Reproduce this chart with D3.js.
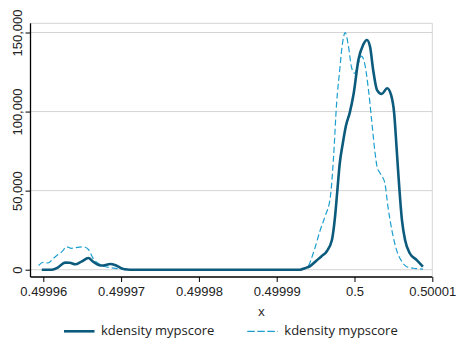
<!DOCTYPE html>
<html>
<head>
<meta charset="utf-8">
<script src="https://cdn.jsdelivr.net/npm/d3@7"></script>
<style>
  html, body { margin: 0; padding: 0; background: #fff; }
  svg { display: block; font-family: "Open Sans", "Noto Sans", sans-serif; }
</style>
</head>
<body>
<script>
// Kernel density estimates of the propensity score (two estimates)
const solidX = [0.4999598, 0.4999611, 0.4999619, 0.4999628, 0.4999634, 0.4999641, 0.4999649, 0.4999658,
  0.4999664, 0.4999671, 0.4999677, 0.4999686, 0.4999692, 0.4999699, 0.4999705, 0.4999711, 0.4999800,
  0.4999930, 0.4999936, 0.4999943, 0.4999951, 0.4999958, 0.4999964, 0.4999971, 0.4999975, 0.4999978,
  0.4999981, 0.4999985, 0.4999989, 0.4999994, 0.4999999, 0.5000005, 0.5000011, 0.5000016, 0.5000020,
  0.5000024, 0.5000029, 0.5000035, 0.5000042, 0.5000047, 0.5000051, 0.5000054, 0.5000056, 0.5000061,
  0.5000065, 0.5000071, 0.5000080, 0.5000088];
const solidY = [0, 0, 1500, 4500, 4400, 3400, 5100, 7400,
  5100, 3000, 2650, 3600, 3000, 1260, 250, 0, 0,
  0, 900, 2300, 5700, 8700, 11400, 18800, 33500, 50400,
  67000, 80000, 91000, 99500, 111600, 132600, 142100, 145300, 141000,
  126300, 113600, 111100, 114700, 110500, 98900, 77800, 63000, 31400,
  18800, 10400, 6100, 1900];

const dashX = [0.4999594, 0.4999600, 0.4999606, 0.4999613, 0.4999619, 0.4999624, 0.4999630, 0.4999636,
  0.4999642, 0.4999651, 0.4999658, 0.4999664, 0.4999671, 0.4999679, 0.4999688, 0.4999696, 0.4999704,
  0.4999711, 0.4999800, 0.4999930, 0.4999939, 0.4999947, 0.4999956, 0.4999962, 0.4999969, 0.4999973,
  0.4999977, 0.4999981, 0.4999984, 0.4999988, 0.4999992, 0.4999996, 0.5000000, 0.5000005, 0.5000009,
  0.5000013, 0.5000018, 0.5000022, 0.5000026, 0.5000029, 0.5000033, 0.5000039, 0.5000043, 0.5000048,
  0.5000054, 0.5000061, 0.5000067, 0.5000076, 0.5000082, 0.5000088];
const dashY = [2650, 4700, 4240, 7200, 9600, 11400, 14500, 13500,
  14000, 14500, 12800, 7200, 3900, 2000, 1200, 630, 100,
  0, 0, 0, 1260, 10400, 25100, 33500, 46200, 70600,
  105200, 126300, 141000, 149900, 142100, 128400, 124200, 130500, 135100,
  130500, 113600, 94700, 75700, 65100, 61000, 54800, 39800, 25100,
  12500, 5060, 1900, 900, 630, 300];

const xTicks = [0.49996, 0.49997, 0.49998, 0.49999, 0.5, 0.50001];
const xTickLabels = ["0.49996", "0.49997", "0.49998", "0.49999", "0.5", "0.50001"];
const yTicks = [0, 50000, 100000, 150000];
const yTickLabels = ["0", "50,000", "100,000", "150,000"];
const seriesNames = ["kdensity mypscore", "kdensity mypscore"];
const xTitle = "x";

const W = 458, H = 339;
const plotL = 30.5, plotR = 432.3, plotT = 23.3, plotB = 277;
const solidColor = "#0c5b7d", dashColor = "#1c9fcf";

const svg = d3.select("body").append("svg").attr("width", W).attr("height", H);

const x = d3.scaleLinear().domain([0.49996, 0.50001]).range([43.3, 432.3]);
const y = d3.scaleLinear().domain([0, 150000]).range([269.7, 32.5]);

// gray frame (top / right) and horizontal gridlines
svg.append("path")
  .attr("d", `M${plotL},${plotT}H${plotR}V${plotB}`)
  .attr("fill", "none").attr("stroke", "#d4d4d4").attr("stroke-width", 1);

svg.append("g").selectAll("line").data(yTicks).join("line")
  .attr("x1", plotL).attr("x2", plotR)
  .attr("y1", d => y(d)).attr("y2", d => y(d))
  .attr("stroke", "#d4d4d4").attr("stroke-width", 1);

// curves
const lineOf = (xs, ys) => d3.line().curve(d3.curveMonotoneX)
  .x((d, i) => x(xs[i])).y((d, i) => y(ys[i]))(xs);

svg.append("path").attr("d", lineOf(dashX, dashY))
  .attr("fill", "none").attr("stroke", dashColor).attr("stroke-width", 1.2)
  .attr("stroke-dasharray", "6,3");

svg.append("path").attr("d", lineOf(solidX, solidY))
  .attr("fill", "none").attr("stroke", solidColor).attr("stroke-width", 2.6)
  .attr("stroke-linejoin", "round");

// axes
const yAxis = d3.axisLeft(y).tickValues(yTicks).tickSize(5)
  .tickFormat((d, i) => yTickLabels[i]);
const gy = svg.append("g").attr("transform", `translate(${plotL},0)`).call(yAxis);
gy.select(".domain").attr("d", `M0,${plotT}V${plotB}`).attr("stroke", "#000").attr("stroke-width", 1.3);
gy.selectAll(".tick line").attr("stroke", "#000");
gy.selectAll(".tick text")
  .attr("font-size", 13).attr("fill", "#222")
  .attr("transform", "rotate(-90)")
  .attr("x", 0).attr("y", -9).attr("dy", 0)
  .attr("text-anchor", "middle");

const xAxis = d3.axisBottom(x).tickValues(xTicks).tickSize(5)
  .tickFormat((d, i) => xTickLabels[i]);
const gx = svg.append("g").attr("transform", `translate(0,${plotB})`).call(xAxis);
gx.select(".domain").attr("d", `M${plotL},0H${plotR}`).attr("stroke", "#000").attr("stroke-width", 1.3);
gx.selectAll(".tick line").attr("stroke", "#000");
gx.selectAll(".tick text").attr("font-size", 13).attr("fill", "#222")
  .attr("y", 19).attr("dy", 0);

svg.append("text").attr("x", (plotL + plotR) / 2 + 30).attr("y", 316)
  .attr("text-anchor", "middle").attr("font-size", 13).attr("fill", "#222").text(xTitle);

// legend
const legend = [
  { x0: 64, name: seriesNames[0], color: solidColor, width: 2.6, dash: null },
  { x0: 247.3, name: seriesNames[1], color: dashColor, width: 1.2, dash: "7.5,2.5" }
];
const lg = svg.append("g").selectAll("g").data(legend).join("g");
lg.append("line").attr("x1", d => d.x0).attr("x2", d => d.x0 + 30.5)
  .attr("y1", 331.3).attr("y2", 331.3)
  .attr("stroke", d => d.color).attr("stroke-width", d => d.width)
  .attr("stroke-dasharray", d => d.dash);
lg.append("text").attr("x", d => d.x0 + 37).attr("y", 335)
  .attr("font-size", 13).attr("fill", "#222").text(d => d.name);
</script>
</body>
</html>
